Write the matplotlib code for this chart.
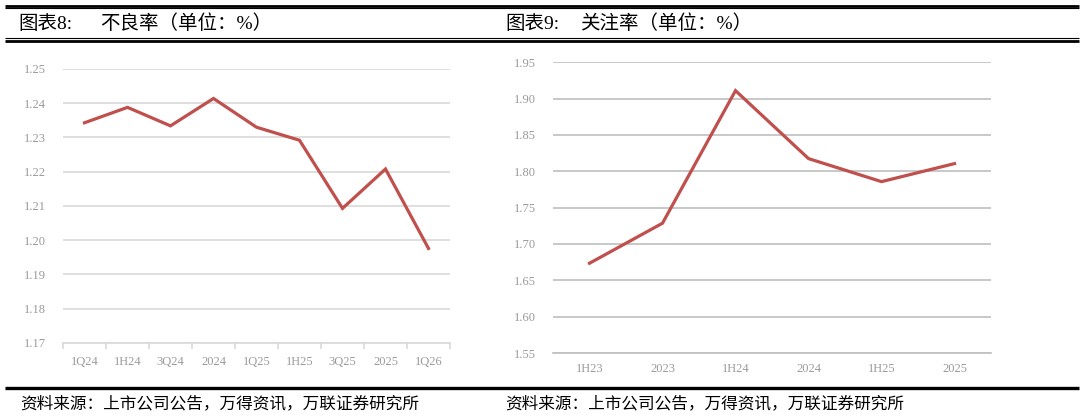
import matplotlib
matplotlib.use('Agg')
import matplotlib.pyplot as plt
import numpy as np
from matplotlib.lines import Line2D

# 不良率
npl_labels = ['1Q24', '1H24', '3Q24', '2024', '1Q25', '1H25', '3Q25', '2025', '1Q26']
npl_values = [1.2343, 1.2388, 1.2334, 1.2414, 1.2330, 1.2292, 1.2093, 1.2208, 1.1976]
npl_ticks = [1.17, 1.18, 1.19, 1.20, 1.21, 1.22, 1.23, 1.24, 1.25]

# 关注率
spm_labels = ['1H23', '2023', '1H24', '2024', '1H25', '2025']
spm_values = [1.6735, 1.7286, 1.911, 1.8175, 1.7858, 1.8106]
spm_ticks = [1.55, 1.60, 1.65, 1.70, 1.75, 1.80, 1.85, 1.90, 1.95]

W, H = 1083, 419
CJK = ['Noto Sans CJK SC', 'DejaVu Sans']
TITLE_F = ['Liberation Serif', 'Noto Sans CJK SC']
NUM = 'Liberation Serif'
LINE_C = '#C0504D'
TICK_C = '#9A9A9A'


def box(x0, y0, x1, y1):
    """pixel box (top-left origin) -> figure rect"""
    return [x0 / W, 1 - y1 / H, (x1 - x0) / W, (y1 - y0) / H]


def hline(fig, y, x0, x1, lw):
    fig.add_artist(Line2D([x0 / W, x1 / W], [1 - y / H, 1 - y / H],
                          transform=fig.transFigure, color='black', lw=lw,
                          solid_capstyle='butt'))


def style_axes(ax, ticks, grid_c):
    for s in ['top', 'right', 'left']:
        ax.spines[s].set_visible(False)
    ax.spines['bottom'].set_color(grid_c)
    ax.spines['bottom'].set_linewidth(1.2)
    ax.set_yticks(ticks)
    ax.set_yticklabels(['%.2f' % t for t in ticks], fontfamily=NUM,
                       fontsize=9, color=TICK_C)
    ax.tick_params(axis='y', length=0, pad=12)
    ax.set_ylim(ticks[0], ticks[-1])
    ax.yaxis.grid(True, color=grid_c, lw=1.2)
    ax.set_axisbelow(True)


fig = plt.figure(figsize=(W / 100, H / 100), dpi=100)

# header / footer rules
hline(fig, 5.8, 5, 1079, 2.0)
hline(fig, 8.3, 5, 1079, 0.8)
hline(fig, 38.5, 5, 1079, 0.8)
hline(fig, 41.0, 5, 1079, 2.0)
hline(fig, 387.5, 5, 1079, 2.4)

# titles
fig.text(18 / W, 1 - 24 / H, '图表8:', fontfamily=TITLE_F, fontsize=14, va='center')
fig.text(100 / W, 1 - 24 / H, '不良率（单位：%）', fontfamily=TITLE_F, fontsize=14, va='center')
fig.text(505 / W, 1 - 24 / H, '图表9:', fontfamily=TITLE_F, fontsize=14, va='center')
fig.text(580 / W, 1 - 24 / H, '关注率（单位：%）', fontfamily=TITLE_F, fontsize=14, va='center')

src = '资料来源：上市公司公告，万得资讯，万联证券研究所'
fig.text(20 / W, 1 - 404 / H, src, fontfamily=CJK, fontsize=12, va='center', style='italic')
fig.text(505 / W, 1 - 404 / H, src, fontfamily=CJK, fontsize=12, va='center', style='italic')

# left chart
ax1 = fig.add_axes(box(63, 69, 450, 343))
x1 = np.arange(len(npl_labels))
ax1.plot(x1, npl_values, color=LINE_C, lw=2.3, solid_joinstyle='miter')
ax1.set_xlim(-0.5, len(npl_labels) - 0.5)
style_axes(ax1, npl_ticks, '#D9D9D9')
ax1.set_xticks(np.arange(-0.5, len(npl_labels)))
ax1.set_xticklabels([])
ax1.tick_params(axis='x', which='major', length=4, color='#D9D9D9', width=1.2)
ax1.set_xticks(x1, minor=True)
ax1.set_xticklabels(npl_labels, minor=True, fontfamily=NUM, fontsize=9, color=TICK_C)
ax1.tick_params(axis='x', which='minor', length=0, pad=9)

# right chart
ax2 = fig.add_axes(box(553, 62.3, 991, 353))
x2 = np.arange(len(spm_labels))
ax2.plot(x2, spm_values, color=LINE_C, lw=2.3, solid_joinstyle='miter')
ax2.set_xlim(-0.5, len(spm_labels) - 0.5)
style_axes(ax2, spm_ticks, '#BFBFBF')
ax2.set_xticks(x2)
ax2.set_xticklabels(spm_labels, fontfamily=NUM, fontsize=9, color=TICK_C)
ax2.tick_params(axis='x', length=0, pad=7)

fig.savefig('out.png', dpi=100)
